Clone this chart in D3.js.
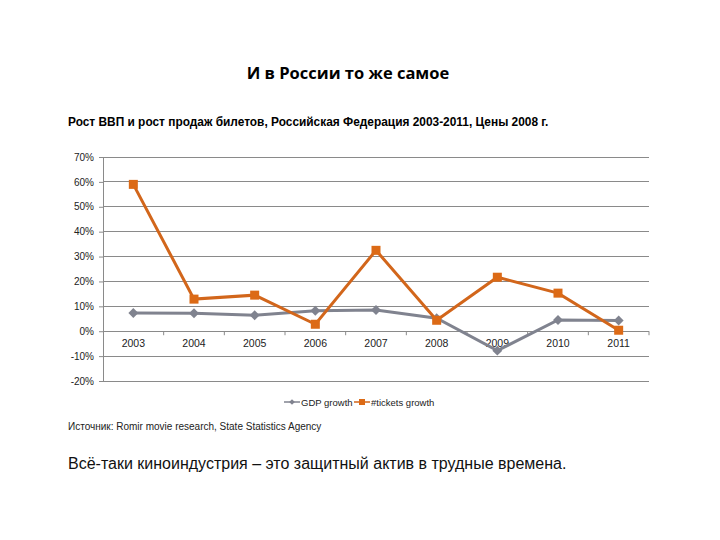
<!DOCTYPE html>
<html>
<head>
<meta charset="utf-8">
<script src="https://cdn.jsdelivr.net/npm/d3@7"></script>
<style>
  body { margin: 0; background: #fff; }
  svg text { font-family: "Liberation Sans", Arial, sans-serif; }
</style>
</head>
<body>
<svg id="chart" width="720" height="540"></svg>
<script>
// data
const years = ["2003", "2004", "2005", "2006", "2007", "2008", "2009", "2010", "2011"];
const gdpGrowth = [0.073, 0.072, 0.064, 0.082, 0.085, 0.052, -0.078, 0.045, 0.043];
const ticketsGrowth = [0.59, 0.129, 0.145, 0.028, 0.325, 0.044, 0.217, 0.153, 0.004];
const yTicks = [-0.2, -0.1, 0, 0.1, 0.2, 0.3, 0.4, 0.5, 0.6, 0.7];

const svg = d3.select("#chart");
const grey = "#80838f", orange = "#d2661b";

// titles
svg.append("text").attr("x", 348).attr("y", 79)
  .attr("text-anchor", "middle")
  .style("font-family", "'Open Sans', sans-serif")
  .style("font-weight", "bold").style("font-size", "16.5px")
  .text("И в России то же самое");

svg.append("text").attr("x", 68).attr("y", 126)
  .style("font-weight", "bold").style("font-size", "11.9px")
  .text("Рост ВВП и рост продаж билетов, Российская Федерация 2003-2011, Цены 2008 г.");

// scales
const x = d3.scaleBand().domain(years).range([103, 649]);
const y = d3.scaleLinear().domain([-0.2, 0.7]).range([381, 157]);

// gridlines
svg.append("g").selectAll("line").data(yTicks).join("line")
  .attr("x1", 103).attr("x2", 649)
  .attr("y1", d => y(d)).attr("y2", d => y(d))
  .attr("stroke", "#8a8a8a").attr("stroke-width", 1)
  .attr("shape-rendering", "crispEdges");

// y axis
const yAxis = svg.append("g").attr("transform", "translate(103,0)")
  .call(d3.axisLeft(y).tickValues(yTicks).tickSize(4)
    .tickFormat(d => Math.round(d * 100) + "%"));
yAxis.select(".domain").attr("stroke", "#8a8a8a");
yAxis.selectAll(".tick line").attr("stroke", "#8a8a8a");
yAxis.selectAll("text").style("font-size", "10px").attr("fill", "#222").attr("dx", "-2");

// x axis on the 0% line, labels below it
const xAxis = svg.append("g").attr("transform", `translate(0,${y(0)})`)
  .call(d3.axisBottom(x).tickSize(0).tickPadding(8));
xAxis.select(".domain").remove();
xAxis.selectAll("text").style("font-size", "10.5px").attr("fill", "#222");
svg.append("g").selectAll("line").data(years).join("line")
  .attr("x1", (d, i) => 103 + (i + 1) * x.bandwidth())
  .attr("x2", (d, i) => 103 + (i + 1) * x.bandwidth())
  .attr("y1", y(0)).attr("y2", y(0) + 4)
  .attr("stroke", "#8a8a8a");

const cx = d => x(d) + x.bandwidth() / 2;
const line = d3.line().x((d, i) => cx(years[i])).y(d => y(d));

// GDP series
svg.append("path").datum(gdpGrowth).attr("d", line)
  .attr("fill", "none").attr("stroke", grey).attr("stroke-width", 3);
svg.append("g").selectAll("rect").data(gdpGrowth).join("rect")
  .attr("x", -3.5).attr("y", -3.5).attr("width", 7).attr("height", 7)
  .attr("transform", (d, i) => `translate(${cx(years[i])},${y(d)}) rotate(45)`)
  .attr("fill", grey);

// tickets series
svg.append("path").datum(ticketsGrowth).attr("d", line)
  .attr("fill", "none").attr("stroke", orange).attr("stroke-width", 3);
svg.append("g").selectAll("rect").data(ticketsGrowth).join("rect")
  .attr("x", (d, i) => cx(years[i]) - 4.5).attr("y", d => y(d) - 4.5)
  .attr("width", 9).attr("height", 9)
  .attr("fill", "#dc6a16");

// legend
const legend = svg.append("g").attr("transform", "translate(284,402)");
legend.append("line").attr("x1", 0).attr("x2", 16).attr("stroke", grey).attr("stroke-width", 1.5);
legend.append("rect").attr("x", -2).attr("y", -2).attr("width", 4).attr("height", 4)
  .attr("transform", "translate(8,0) rotate(45)").attr("fill", grey);
legend.append("text").attr("x", 17).attr("y", 3.5).style("font-size", "9.5px").attr("fill", "#222").text("GDP growth");
legend.append("line").attr("x1", 70).attr("x2", 86).attr("stroke", orange).attr("stroke-width", 1.5);
legend.append("rect").attr("x", 75).attr("y", -3).attr("width", 6).attr("height", 6).attr("fill", "#dc6a16");
legend.append("text").attr("x", 87).attr("y", 3.5).style("font-size", "9.5px").attr("fill", "#222").text("#tickets growth");

// source and conclusion
svg.append("text").attr("x", 68).attr("y", 430).style("font-size", "10px").attr("fill", "#222")
  .text("Источник: Romir movie research, State Statistics Agency");
svg.append("text").attr("x", 68).attr("y", 469).style("font-size", "16px").attr("fill", "#111")
  .text("Всё-таки киноиндустрия – это защитный актив в трудные времена.");
</script>
</body>
</html>
